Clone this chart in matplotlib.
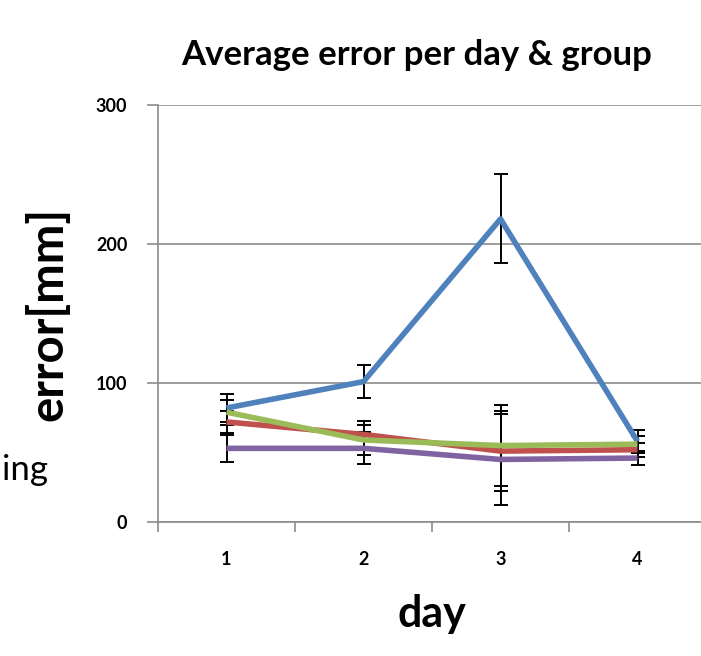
import matplotlib

matplotlib.use("Agg")
import matplotlib.pyplot as plt  # noqa: E402

plt.rcParams["font.family"] = ["Lato", "DejaVu Sans"]

# Excel 2007 palette
BLUE = "#4F81BD"
RED = "#C0504D"
GREEN = "#9BBB59"
PURPLE = "#8064A2"
GRID = "#8C8C8C"

days = [1, 2, 3, 4]
day_labels = ["1", "2", "3", "4"]

blue_mean = [82, 101, 218, 58]
blue_err = [10, 12, 32, 8]
red_mean = [72, 63, 51, 52]
red_err = [8, 10, 29, 5]
green_mean = [79, 59, 55, 56]
green_err = [9, 11, 29, 6]
purple_mean = [53, 53, 45, 46]
purple_err = [9.5, 11.5, 33, 5]

series = [
    (blue_mean, blue_err, BLUE),
    (red_mean, red_err, RED),
    (purple_mean, purple_err, PURPLE),
    (green_mean, green_err, GREEN),
]

fig = plt.figure(figsize=(7.01, 6.56), dpi=100)
fig.patch.set_facecolor("white")
ax = fig.add_axes([158 / 701, 1 - 522 / 656, 548 / 701, 417 / 656])

for mean, err, color in series:
    ax.errorbar(days, mean, yerr=err, fmt="none", ecolor="black",
                elinewidth=1.4, capsize=5, capthick=1.4, zorder=2)
for mean, err, color in series:
    ax.plot(days, mean, color=color, linewidth=4, solid_capstyle="butt", zorder=3)

ax.set_xlim(0.5, 4.5)
ax.set_ylim(0, 300)
ax.set_yticks([0, 100, 200, 300])
ax.yaxis.grid(True, color=GRID, linewidth=1.2)
ax.set_axisbelow(True)

ax.set_xticks(days)
ax.set_xticklabels(day_labels)
ax.set_xticks([0.5, 1.5, 2.5, 3.5, 4.5], minor=True)
ax.tick_params(axis="x", which="major", length=0, pad=21)
ax.tick_params(axis="x", which="minor", length=7, color=GRID, width=1.2)
ax.tick_params(axis="y", length=8, color=GRID, width=1.2, pad=14)
for lbl in ax.get_xticklabels() + ax.get_yticklabels():
    lbl.set_fontweight("bold")
    lbl.set_fontsize(13)

for side in ("top", "right"):
    ax.spines[side].set_visible(False)
for side in ("left", "bottom"):
    ax.spines[side].set_color(GRID)
    ax.spines[side].set_linewidth(1.2)

ax.set_ylabel("error[mm]", fontsize=34, fontweight="bold")
ax.yaxis.set_label_coords(-88 / 548, 0.5)
ax.set_xlabel("day", fontsize=31, fontweight="bold")
ax.xaxis.set_label_coords(274 / 548, -72 / 417)

fig.text(417 / 701, 1 - 55 / 656, "Average error per day & group",
         fontsize=25, fontweight="bold", ha="center", va="center")
fig.text(48 / 701, 1 - 470 / 656, "ing", fontsize=25, ha="right", va="center")

fig.savefig("out.png", dpi=100, facecolor="white")
